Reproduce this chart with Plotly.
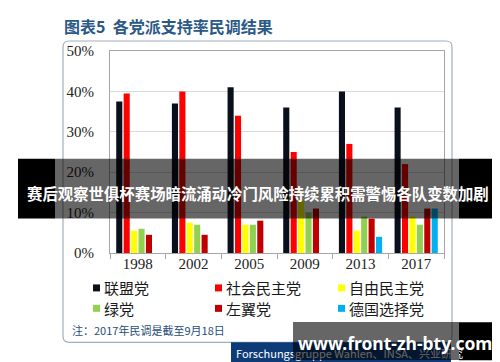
import plotly.graph_objects as go

years = ["1998", "2002", "2005", "2009", "2013", "2017"]
union = [37.5, 37, 41, 36, 40, 36]
spd = [39.5, 40, 34, 25, 27, 22]
fdp = [5.5, 7.5, 7, 13, 5.5, 9]
greens = [6, 7, 7, 10, 9, 7]
left = [4.5, 4.5, 8, 11, 8.5, 11]
afd = [None, None, None, None, 4, 11]

party_names = ["联盟党", "社会民主党", "自由民主党", "绿党", "左翼党", "德国选择党"]
party_colors = ["#0a0f1c", "#ff0000", "#ffff00", "#92d050", "#c00000", "#00b0f0"]
series = [union, spd, fdp, greens, left, afd]

title_text = "图表5  各党派支持率民调结果"
note_text = "注：2017年民调是截至9月18日"
source_text = "Forschungsgruppe Wahlen、INSA、兴业研究"
banner_text = "赛后观察世俱杯赛场暗流涌动冷门风险持续累积需警惕各队变数加剧"
url_text = "www.front-zh-bty.com"

W, H = 500, 362
L, R, T, B = 102, 436, 43, 245.5

fig = go.Figure()
for name, color, vals in zip(party_names, party_colors, series):
    fig.add_trace(go.Bar(x=years, y=vals, name=name, marker_color=color,
                         marker_line_width=0, showlegend=False))


def px(x):
    return (x - L) / (R - L)


def py(y):
    return (B - y) / (B - T)


shapes = []
annotations = []

# outer rounded box
x0, y0, x1, y1, r = 55, 33, 444, 335, 6
path = (f"M {px(x0+r)},{py(y0)} L {px(x1-r)},{py(y0)} Q {px(x1)},{py(y0)} {px(x1)},{py(y0+r)} "
        f"L {px(x1)},{py(y1-r)} Q {px(x1)},{py(y1)} {px(x1-r)},{py(y1)} "
        f"L {px(x0+r)},{py(y1)} Q {px(x0)},{py(y1)} {px(x0)},{py(y1-r)} "
        f"L {px(x0)},{py(y0+r)} Q {px(x0)},{py(y0)} {px(x0+r)},{py(y0)} Z")
shapes.append(dict(type="path", path=path, xref="paper", yref="paper",
                   line=dict(color="#9fb0bd", width=1.2), layer="below"))

# title
annotations.append(dict(text=title_text, x=px(54), y=py(18), xref="paper", yref="paper",
                        xanchor="left", yanchor="middle", showarrow=False,
                        font=dict(family="Noto Sans CJK SC", size=16, color="#2b5987", weight=600)))

# legend (manual)
col_x = [85, 207, 330]
row_y = [280.5, 301]
for i, (name, color) in enumerate(zip(party_names, party_colors)):
    cx = col_x[i % 3]
    cy = row_y[i // 3]
    shapes.append(dict(type="rect", xref="paper", yref="paper",
                       x0=px(cx), x1=px(cx + 7), y0=py(cy - 3.5), y1=py(cy + 3.5),
                       fillcolor=color, line_width=0))
    annotations.append(dict(text=name, x=px(cx + 9), y=py(cy), xref="paper", yref="paper",
                            xanchor="left", yanchor="middle", showarrow=False,
                            font=dict(family="Noto Sans CJK SC", size=15, color="#1a1a1a")))

# note
annotations.append(dict(text=note_text, x=px(62), y=py(322.5), xref="paper", yref="paper",
                        xanchor="left", yanchor="middle", showarrow=False,
                        font=dict(family="Noto Sans CJK SC", size=11, color="#1f4e79")))

# source box
shapes.append(dict(type="rect", xref="paper", yref="paper",
                   x0=px(223), x1=px(443), y0=py(335), y1=py(357),
                   fillcolor="#0d3b78", line_width=0, layer="above"))
annotations.append(dict(text=source_text, x=px(226), y=py(346), xref="paper", yref="paper",
                        xanchor="left", yanchor="middle", showarrow=False,
                        font=dict(family="Noto Sans CJK SC", size=11, color="white")))

# overlay banner 1
shapes.append(dict(type="rect", xref="paper", yref="paper",
                   x0=px(47), x1=px(451), y0=py(151), y1=py(211),
                   fillcolor="rgba(0,0,0,0.6)", line_width=0, layer="above"))
shapes.append(dict(type="rect", xref="paper", yref="paper",
                   x0=px(10), x1=px(47), y0=py(151), y1=py(211),
                   fillcolor="black", line_width=0, layer="above"))
shapes.append(dict(type="rect", xref="paper", yref="paper",
                   x0=px(451), x1=px(490), y0=py(151), y1=py(211),
                   fillcolor="black", line_width=0, layer="above"))
annotations.append(dict(text="<b>" + banner_text + "</b>", x=px(250), y=py(185), xref="paper", yref="paper",
                        xanchor="center", yanchor="middle", showarrow=False,
                        font=dict(family="Noto Sans CJK SC", size=15.4, color="white")))

# overlay banner 2
shapes.append(dict(type="rect", xref="paper", yref="paper",
                   x0=px(451), x1=px(491), y0=py(315), y1=py(353),
                   fillcolor="black", line_width=0, layer="above"))
annotations.append(dict(text=" ", x=px(285), y=py(315), xref="paper", yref="paper",
                        xanchor="left", yanchor="top", showarrow=False,
                        width=166, height=38, borderpad=0, borderwidth=0,
                        bgcolor="rgba(0,0,0,0.6)"))
annotations.append(dict(text="<b>" + url_text + "</b>", x=px(387), y=py(335.5), xref="paper", yref="paper",
                        xanchor="center", yanchor="middle", showarrow=False,
                        font=dict(family="Noto Sans", size=17.5, color="white")))

fig.update_layout(
    width=W, height=H,
    margin=dict(l=L, r=W - R, t=T, b=H - B, pad=0),
    paper_bgcolor="white", plot_bgcolor="white",
    barmode="group", bargap=0.2, bargroupgap=0.18,
    shapes=shapes, annotations=annotations,
    showlegend=False,
    xaxis=dict(type="category", showline=True, mirror=True, linecolor="#a6a6a6", linewidth=1,
               ticks="outside", tickson="boundaries", ticklen=5, tickcolor="#a6a6a6",
               ticklabelstandoff=-3,
               tickfont=dict(family="Liberation Serif", size=15, color="#222"),
               showgrid=False),
    yaxis=dict(range=[0, 50], dtick=10, ticksuffix="%", showline=True, mirror=True,
               linecolor="#a6a6a6", linewidth=1, gridcolor="#d9d9d9", gridwidth=1,
               ticks="", ticklabelstandoff=12, zeroline=False,
               tickfont=dict(family="Liberation Serif", size=15, color="#222")),
)

fig.write_html("out.html")
